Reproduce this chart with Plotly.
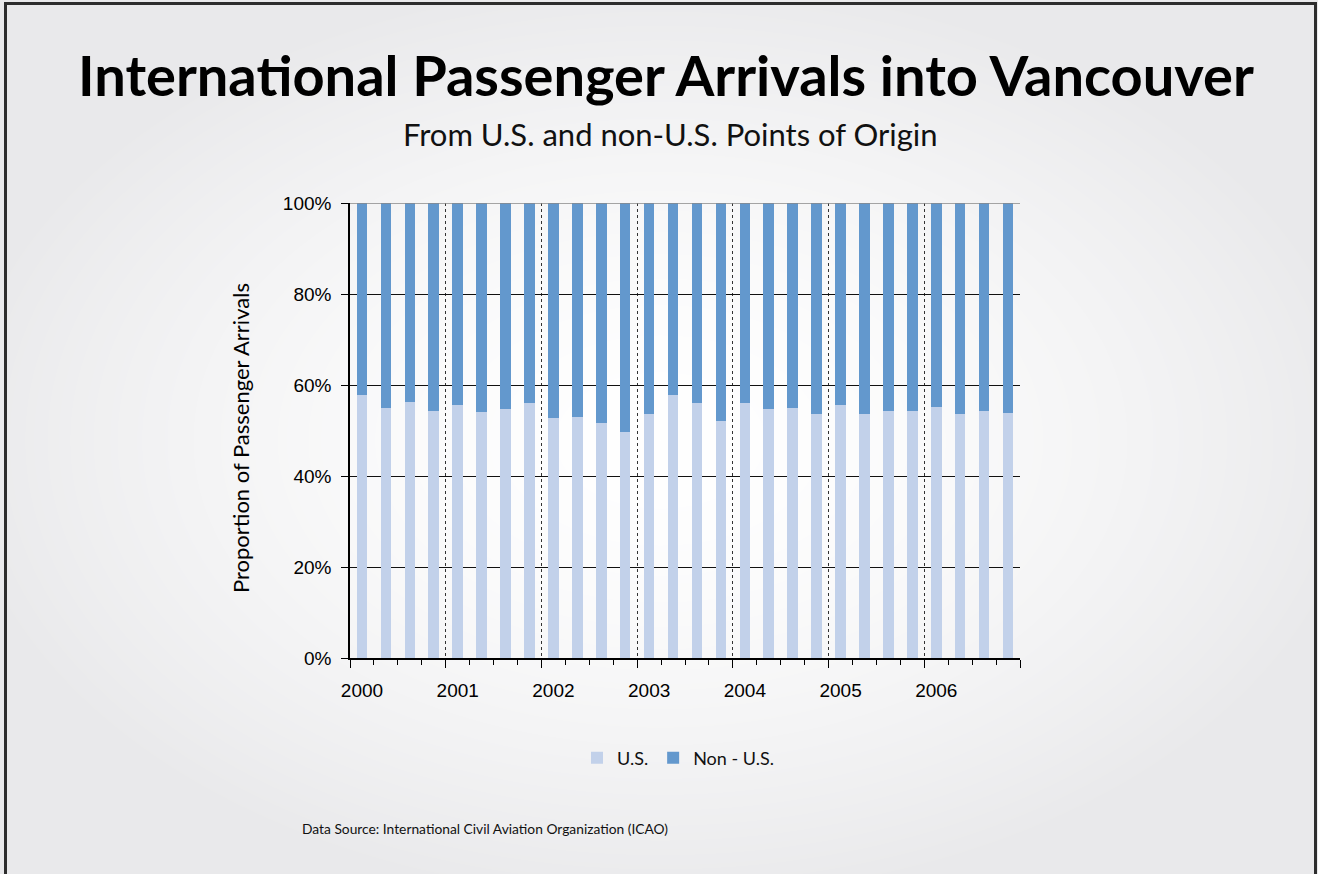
import base64, struct, zlib
import numpy as np
import plotly.graph_objects as go

# ---------------- data ----------------
years = ["2000", "2001", "2002", "2003", "2004", "2005", "2006"]
quarters = [f"{y} Q{q}" for y in years for q in range(1, 5)]
us_share = [57.8, 55.0, 56.3, 54.3,
            55.6, 54.1, 54.7, 56.0,
            52.7, 53.0, 51.6, 49.7,
            53.6, 57.8, 56.0, 52.1,
            56.0, 54.7, 55.0, 53.6,
            55.6, 53.6, 54.3, 54.3,
            55.2, 53.6, 54.3, 53.8]
non_us_share = [42.2, 45.0, 43.7, 45.7,
                44.4, 45.9, 45.3, 44.0,
                47.3, 47.0, 48.4, 50.3,
                46.4, 42.2, 44.0, 47.9,
                44.0, 45.3, 45.0, 46.4,
                44.4, 46.4, 45.7, 45.7,
                44.8, 46.4, 45.7, 46.2]
y_ticks = [0, 20, 40, 60, 80, 100]

# ---------------- geometry ----------------
W, H = 1318, 874
L, R, T, B = 350, 1020, 203, 658
PW, PH = R - L, B - T

def px_x(px):
    return (px - L) / PW

def px_y(py):
    return (B - py) / PH

# ---------------- background (radial gradient + frame) ----------------
def make_bg(w, h):
    yy, xx = np.mgrid[0:h, 0:w].astype(float)
    r = np.sqrt(((xx - 660) / 720.0) ** 2 + ((yy - 440) / 470.0) ** 2)
    r = np.clip(r, 0, 1) ** 1.6
    base = np.stack([255 - 22 * r, 255 - 22 * r, 255 - 20 * r], axis=-1)
    img = base.astype(np.uint8)
    dark = np.array([45, 45, 45], np.uint8)
    img[2:5, 4:1317] = dark
    img[2:, 4:7] = dark
    img[2:, 1314:1317] = dark
    return img

def png_uri(arr):
    h, w, _ = arr.shape
    raw = b"".join(b"\x00" + arr[i].tobytes() for i in range(h))
    def chunk(tag, data):
        c = struct.pack(">I", len(data)) + tag + data
        return c + struct.pack(">I", zlib.crc32(tag + data) & 0xFFFFFFFF)
    png = b"\x89PNG\r\n\x1a\n"
    png += chunk(b"IHDR", struct.pack(">IIBBBBB", w, h, 8, 2, 0, 0, 0))
    png += chunk(b"IDAT", zlib.compress(raw, 9))
    png += chunk(b"IEND", b"")
    return "data:image/png;base64," + base64.b64encode(png).decode()

bg_uri = png_uri(make_bg(W, H))

# ---------------- figure ----------------
xpos = [i + 0.5 for i in range(len(quarters))]
LIGHT = "#c2d1ea"
DARK = "#6398cd"
futura_like = "Lato, 'Noto Sans', sans-serif"
arial = "Liberation Sans, Arial, sans-serif"

fig = go.Figure()
fig.add_trace(go.Bar(x=xpos, y=us_share, name="U.S.", marker_color=LIGHT,
                     marker_line_width=0, width=0.44, customdata=quarters,
                     hovertemplate="%{customdata}<br>U.S.: %{y:.1f}%<extra></extra>"))
fig.add_trace(go.Bar(x=xpos, y=non_us_share, name="Non - U.S.", marker_color=DARK,
                     marker_line_width=0, width=0.44, customdata=quarters,
                     hovertemplate="%{customdata}<br>Non-U.S.: %{y:.1f}%<extra></extra>"))

year_bounds = [4 * i for i in range(len(years) + 1)]

fig.update_layout(
    width=W, height=H,
    margin=dict(l=L, r=W - R, t=T, b=H - B, pad=0),
    barmode="stack",
    paper_bgcolor="white",
    plot_bgcolor="rgba(0,0,0,0)",
    showlegend=True,
    legend=dict(orientation="h", x=px_x(678), xanchor="center",
                y=px_y(758), yanchor="middle",
                font=dict(family=futura_like, size=18, color="#111"),
                bgcolor="rgba(0,0,0,0)", itemwidth=30, traceorder="normal"),
    images=[dict(source=bg_uri, xref="paper", yref="paper",
                 x=px_x(0), y=px_y(0), sizex=W / PW, sizey=H / PH,
                 xanchor="left", yanchor="top", sizing="stretch", layer="below")],
    xaxis=dict(range=[0, 28], tickmode="array", tickvals=year_bounds,
               ticktext=years + [""], ticklabelshift=12, ticklabelstandoff=6,
               ticks="outside", ticklen=8, tickwidth=1, tickcolor="black",
               showline=True, linecolor="black", linewidth=1.5,
               showgrid=True, gridcolor="#333", griddash="dot", gridwidth=1,
               zeroline=False,
               minor=dict(dtick=1, tick0=0, ticks="outside", ticklen=5,
                          tickcolor="black", showgrid=False),
               tickfont=dict(family=arial, size=19, color="black"),
               fixedrange=True),
    yaxis=dict(range=[0, 100], tickmode="array", tickvals=y_ticks,
               ticktext=[f"{v}%" for v in y_ticks], ticklabelstandoff=6,
               ticks="outside", ticklen=7, tickwidth=1, tickcolor="black",
               showline=True, linecolor="black", linewidth=1.5,
               showgrid=True, gridcolor="#111", gridwidth=1, zeroline=False,
               tickfont=dict(family=arial, size=19, color="black"),
               fixedrange=True),
    annotations=[
        dict(text="<b>International Passenger Arrivals into Vancouver</b>",
             xref="paper", yref="paper", x=px_x(666), y=px_y(75),
             xanchor="center", yanchor="middle", showarrow=False,
             font=dict(family=futura_like, size=56, color="black")),
        dict(text="From U.S. and non-U.S. Points of Origin",
             xref="paper", yref="paper", x=px_x(670), y=px_y(134),
             xanchor="center", yanchor="middle", showarrow=False,
             font=dict(family=futura_like, size=31, color="#111")),
        dict(text="Proportion of Passenger Arrivals",
             xref="paper", yref="paper", x=px_x(240), y=px_y(438),
             xanchor="center", yanchor="middle", showarrow=False, textangle=-90,
             font=dict(family=futura_like, size=22, color="black")),
        dict(text="Data Source: International Civil Aviation Organization (ICAO)",
             xref="paper", yref="paper", x=px_x(300), y=px_y(828),
             xanchor="left", yanchor="middle", showarrow=False,
             font=dict(family=futura_like, size=13.8, color="#111")),
    ],
    shapes=[dict(type="line", xref="paper", yref="y", x0=0, x1=1, y0=100, y1=100,
                 line=dict(color="#888", width=1.5), layer="above")],
)

fig.write_html("out.html")
